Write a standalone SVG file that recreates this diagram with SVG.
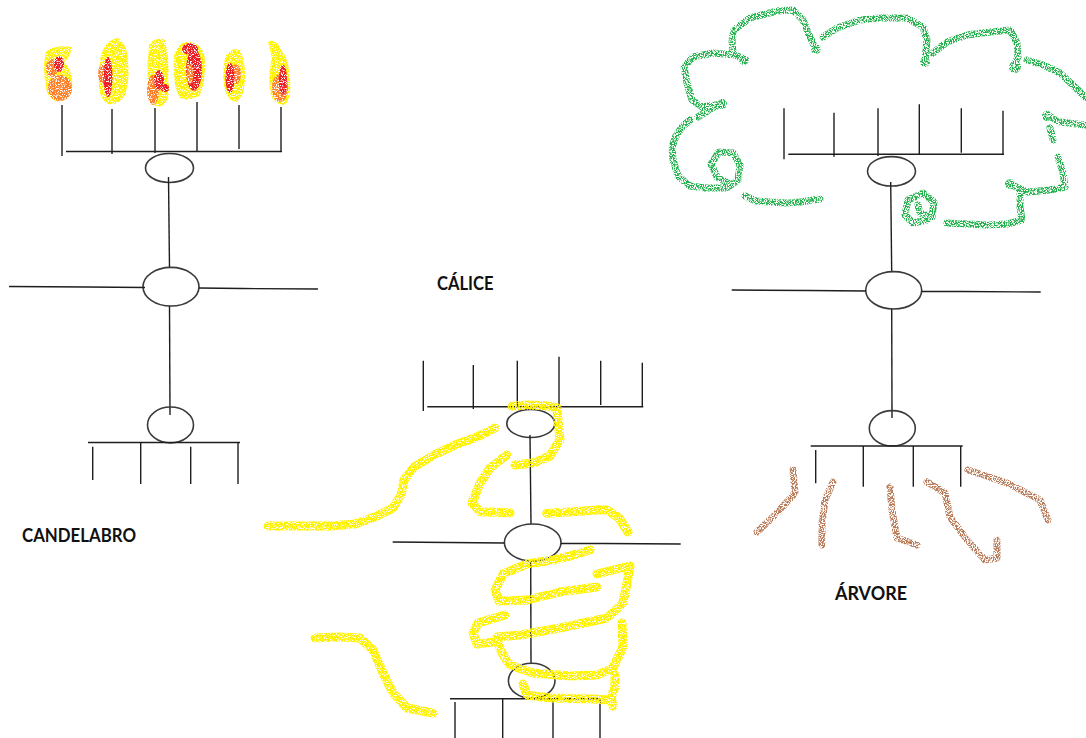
<svg xmlns="http://www.w3.org/2000/svg" width="1086" height="738" viewBox="0 0 1086 738">
  <defs>
    <style>
      .ink line, .ink polyline { stroke: #1e1e1e; stroke-width: 1.4; fill: none; stroke-linecap: butt; }
      .ink ellipse { stroke: #3a3a3a; stroke-width: 1.6; fill: none; }
      .label { font-family: Lato, "Open Sans", "Liberation Sans", sans-serif; font-weight: 700; font-size: 18.5px; fill: #111; }
      .stroke { fill: none; stroke-linecap: round; stroke-linejoin: round; }
      .yellow { stroke: #FFF200; stroke-width: 9; }
      .green { stroke: #22B14C; stroke-width: 7; }
      .brown { stroke: #B97A57; stroke-width: 7; }
    </style>
    <!-- speckled wax texture: noise thresholded into an alpha mask -->
    <filter id="crayon" filterUnits="userSpaceOnUse" x="0" y="0" width="1086" height="738">
      <feTurbulence type="fractalNoise" baseFrequency="0.85" numOctaves="2" seed="7" result="noise"/>
      <feColorMatrix in="noise" type="matrix" values="0 0 0 0 0  0 0 0 0 0  0 0 0 0 0  8 0 0 0 -2.9" result="mask"/>
      <feComposite in="SourceGraphic" in2="mask" operator="in"/>
    </filter>
    <filter id="crayon-sparse" filterUnits="userSpaceOnUse" x="0" y="0" width="1086" height="738">
      <feTurbulence type="fractalNoise" baseFrequency="0.9" numOctaves="2" seed="3" result="noise"/>
      <feColorMatrix in="noise" type="matrix" values="0 0 0 0 0  0 0 0 0 0  0 0 0 0 0  7 0 0 0 -2.9" result="mask"/>
      <feComposite in="SourceGraphic" in2="mask" operator="in"/>
    </filter>
  </defs>

  <rect width="1086" height="738" fill="#ffffff"/>

  <!-- Candelabro -->
  <g id="candelabro">
    <g id="candelabro-flames" filter="url(#crayon)">
      <path d="M46,52 Q55,44 72,47 Q70,58 64,62 Q74,72 72,88 Q70,100 58,102 Q46,98 46,85 Q42,68 46,52 Z" fill="#FFF200"/>
      <ellipse cx="60" cy="88" rx="12" ry="13" fill="#FF7F27"/>
      <ellipse cx="52" cy="68" rx="6" ry="9" fill="#FF7F27"/>
      <ellipse cx="59" cy="64" rx="5" ry="8" fill="#ED1C24"/>

      <path d="M100,60 Q104,40 118,38 Q128,45 128,62 Q130,80 125,95 Q118,106 108,104 Q98,98 99,80 Z" fill="#FFF200"/>
      <ellipse cx="103" cy="74" rx="5" ry="10" fill="#FF7F27"/>
      <ellipse cx="108" cy="77" rx="4.5" ry="20" fill="#ED1C24"/>

      <path d="M149,45 Q156,36 165,40 Q170,60 168,80 Q172,98 162,106 Q152,109 149,95 Q146,70 149,45 Z" fill="#FFF200"/>
      <ellipse cx="153" cy="90" rx="6" ry="15" fill="#FF7F27"/>
      <ellipse cx="159" cy="80" rx="5" ry="10" fill="#ED1C24"/>
      <ellipse cx="165" cy="88" rx="4" ry="4" fill="#ED1C24"/>

      <path d="M174,55 Q180,40 190,42 Q204,45 205,60 Q206,80 200,95 Q190,102 180,98 Q172,85 174,55 Z" fill="#FFF200"/>
      <ellipse cx="194" cy="70" rx="8" ry="21" fill="#ED1C24"/>
      <ellipse cx="190" cy="49" rx="8" ry="6" fill="#ED1C24"/>
      <ellipse cx="190" cy="74" rx="3.5" ry="10" fill="#FF7F27"/>

      <path d="M226,55 Q232,47 240,50 Q246,62 245,80 Q244,98 236,102 Q226,100 224,85 Q222,68 226,55 Z" fill="#FFF200"/>
      <ellipse cx="236" cy="74" rx="5" ry="10" fill="#FF7F27"/>
      <ellipse cx="230" cy="78" rx="4.5" ry="15" fill="#ED1C24"/>

      <path d="M268,42 Q275,38 280,48 Q290,60 290,80 Q292,100 284,105 Q272,104 270,90 Q268,70 272,58 Z" fill="#FFF200"/>
      <ellipse cx="280" cy="88" rx="8" ry="14" fill="#FF7F27"/>
      <ellipse cx="283" cy="80" rx="4" ry="15" fill="#ED1C24"/>
    </g>
    <g id="candelabro-frame" class="ink">
      <line x1="62" y1="105" x2="62" y2="156"/>
      <line x1="112" y1="109" x2="112" y2="154"/>
      <line x1="155" y1="108" x2="155" y2="153"/>
      <line x1="197" y1="102" x2="197" y2="151"/>
      <line x1="239" y1="105" x2="239" y2="149"/>
      <line x1="281" y1="107" x2="281" y2="151"/>
      <line x1="66" y1="151.5" x2="282" y2="151.5"/>
      <ellipse cx="169.5" cy="168" rx="24" ry="14.5"/>
      <line x1="168.5" y1="177" x2="169.5" y2="268"/>
      <ellipse cx="171" cy="286.7" rx="28" ry="19.3"/>
      <polyline points="9,286.5 87,287 145,287.5"/>
      <polyline points="199,288 242,288.5 318,289"/>
      <line x1="169.5" y1="306" x2="170" y2="415"/>
      <ellipse cx="170.5" cy="425" rx="23" ry="18"/>
      <line x1="88" y1="442.5" x2="240" y2="442.5"/>
      <line x1="92.7" y1="446.7" x2="92.7" y2="480"/>
      <line x1="140.7" y1="443" x2="140.7" y2="484"/>
      <line x1="190.7" y1="446.7" x2="190.7" y2="484"/>
      <line x1="238" y1="443" x2="238" y2="484"/>
    </g>
    <text class="label" x="22" y="541.5" textLength="114" lengthAdjust="spacingAndGlyphs">CANDELABRO</text>
  </g>

  <!-- Cálice -->
  <g id="calice">
    <g id="calice-frame" class="ink">
      <line x1="423.3" y1="360.7" x2="423.3" y2="411"/>
      <line x1="473.3" y1="365" x2="473.3" y2="409"/>
      <line x1="517.3" y1="360.7" x2="517.3" y2="406.7"/>
      <line x1="559" y1="356.7" x2="559" y2="406.7"/>
      <line x1="600.7" y1="360.7" x2="600.7" y2="405"/>
      <line x1="642.3" y1="362.7" x2="642.3" y2="406.7"/>
      <line x1="427.3" y1="406.7" x2="643.3" y2="406.7"/>
      <ellipse cx="530.8" cy="423.5" rx="24" ry="14"/>
      <line x1="530" y1="435" x2="531" y2="524"/>
      <ellipse cx="532.7" cy="542.5" rx="28.3" ry="18.5"/>
      <polyline points="392.7,542 449,542.5 504.3,543"/>
      <polyline points="561,543.5 603,543.5 680.7,544"/>
      <line x1="530.7" y1="561" x2="531" y2="663"/>
      <ellipse cx="531.7" cy="680.8" rx="23.3" ry="17.5"/>
      <line x1="450" y1="698.7" x2="600.7" y2="698.7"/>
      <line x1="455" y1="702" x2="455" y2="738"/>
      <line x1="502.7" y1="699" x2="502.7" y2="738"/>
      <line x1="553" y1="699" x2="553" y2="738"/>
      <line x1="600" y1="699" x2="600" y2="738"/>
    </g>
    <g id="calice-hand" class="stroke yellow" filter="url(#crayon)">
      <polyline points="512,406 530,405 548,406 557,408 558,420 560,440 550,456 533,463 515,465"/>
      <polyline points="495,428 477,437 455,445 434,455 414,467 404,480 401,495 393,508 375,517 355,524 330,526 300,526 268,526"/>
      <polyline points="506.7,455 490,468 480,483 472,503 480,511.7 510,512.7"/>
      <polyline points="546.7,513.3 573.3,511.7 595,510 607,510 619,518 628,532"/>
      <polyline points="590,550 570,556 553,560 527,564 503,574 495,590 499,601 527,600 560,592 597,587"/>
      <polyline points="597,574 630,566 627,583 623,603 607,618 560,628 520,635 497,637"/>
      <polyline points="505,615 478,623 473,633 477,644 493,642"/>
      <polyline points="497,640 502,653 510,665 533,673 570,676 597,675 613,668 623,647 622,623"/>
      <polyline points="523,684 527,695 550,698 593,699 610,700 615,687 615,675"/>
      <polyline points="612,700 613,706"/>
      <polyline points="315,638 340,637 360,638 373,650 383,673 393,693 407,708 433,713"/>
    </g>
    <text class="label" x="437" y="290" textLength="56.5" lengthAdjust="spacingAndGlyphs">CÁLICE</text>
  </g>

  <!-- Árvore -->
  <g id="arvore">
    <g id="arvore-copa" class="stroke green" filter="url(#crayon-sparse)">
      <polyline points="820,199 800,202 786,203 770,202 756,201 745,196"/>
      <polyline points="730,184 717,177 711,164 719,152 733,153 740,165 738,180 727,188 705,188 690,186 678,176 673,160 672,147 676,136"/>
      <polyline points="676,136 682,127 690,120"/>
      <polyline points="698,117 712,108 722,104 702,107 692,100 687,83 684,67 693,57 713,53 735,55 745,60"/>
      <polyline points="733,54 732,40 734,30 750,18 777,11 793,10 803,20 810,37 816,49"/>
      <polyline points="823,37 837,28 860,20 880,18 907,18 923,27 927,40 925,62"/>
      <polyline points="933,53 947,42 967,35 990,32 1010,30 1017,43 1018,57 1013,68"/>
      <polyline points="1027,60 1043,65 1060,73 1075,87 1085,97"/>
      <polyline points="1047,115 1060,122 1085,125"/>
      <polyline points="1050,128 1053,140"/>
      <polyline points="1058,157 1063,173 1065,187 1050,190 1027,192 1010,184"/>
      <polyline points="1020,193 1020,207 1022,220 1007,224 987,225 967,224 947,223"/>
      <polyline points="927,220 913,223 905,215 908,200 923,193 934,202 932,217 920,213 918,205"/>
      <g fill="#22B14C" stroke="none">
        <circle cx="722" cy="104" r="5"/>
        <circle cx="744" cy="60" r="5"/>
        <circle cx="816" cy="49" r="5"/>
        <circle cx="925" cy="62" r="5"/>
        <circle cx="1015" cy="67" r="6"/>
        <circle cx="1047" cy="116" r="5"/>
        <circle cx="1010" cy="184" r="5"/>
      </g>
    </g>
    <g id="arvore-frame" class="ink">
      <line x1="784" y1="108.3" x2="784" y2="159.3"/>
      <line x1="834" y1="112.7" x2="834" y2="156.7"/>
      <line x1="878" y1="108.3" x2="878" y2="156"/>
      <line x1="919.3" y1="104.3" x2="919.3" y2="154.3"/>
      <line x1="961.3" y1="108.3" x2="961.3" y2="152.7"/>
      <line x1="1003" y1="110.7" x2="1003" y2="154.3"/>
      <line x1="788.3" y1="154.3" x2="1004" y2="154.3"/>
      <ellipse cx="891.5" cy="171.3" rx="24" ry="14.7"/>
      <line x1="890.7" y1="182" x2="891.7" y2="271.7"/>
      <ellipse cx="893.7" cy="290.3" rx="28" ry="18.7"/>
      <polyline points="731.7,290 810,290.5 865.7,291"/>
      <polyline points="921.7,291.5 963,291.5 1040.7,292"/>
      <line x1="891.7" y1="309" x2="892" y2="418"/>
      <ellipse cx="892.3" cy="428.3" rx="23" ry="17.7"/>
      <line x1="810.7" y1="446" x2="962.7" y2="446"/>
      <line x1="815.7" y1="450" x2="815.7" y2="483.3"/>
      <line x1="863.3" y1="446" x2="863.3" y2="486.7"/>
      <line x1="913.3" y1="446" x2="913.3" y2="486.7"/>
      <line x1="960.7" y1="446" x2="960.7" y2="486.7"/>
    </g>
    <g id="arvore-raizes" class="stroke brown" filter="url(#crayon-sparse)">
      <polyline points="793,470 795,493 777,513 757,532"/>
      <polyline points="833,482 825,500 822,522 822,545"/>
      <polyline points="890,487 892,510 897,538 917,545"/>
      <polyline points="927,482 945,493 950,517 967,540 985,560 997,558 997,540"/>
      <polyline points="968,470 1007,483 1040,500 1048,520"/>
    </g>
    <text class="label" x="835" y="600" textLength="72" lengthAdjust="spacingAndGlyphs">ÁRVORE</text>
  </g>
</svg>
